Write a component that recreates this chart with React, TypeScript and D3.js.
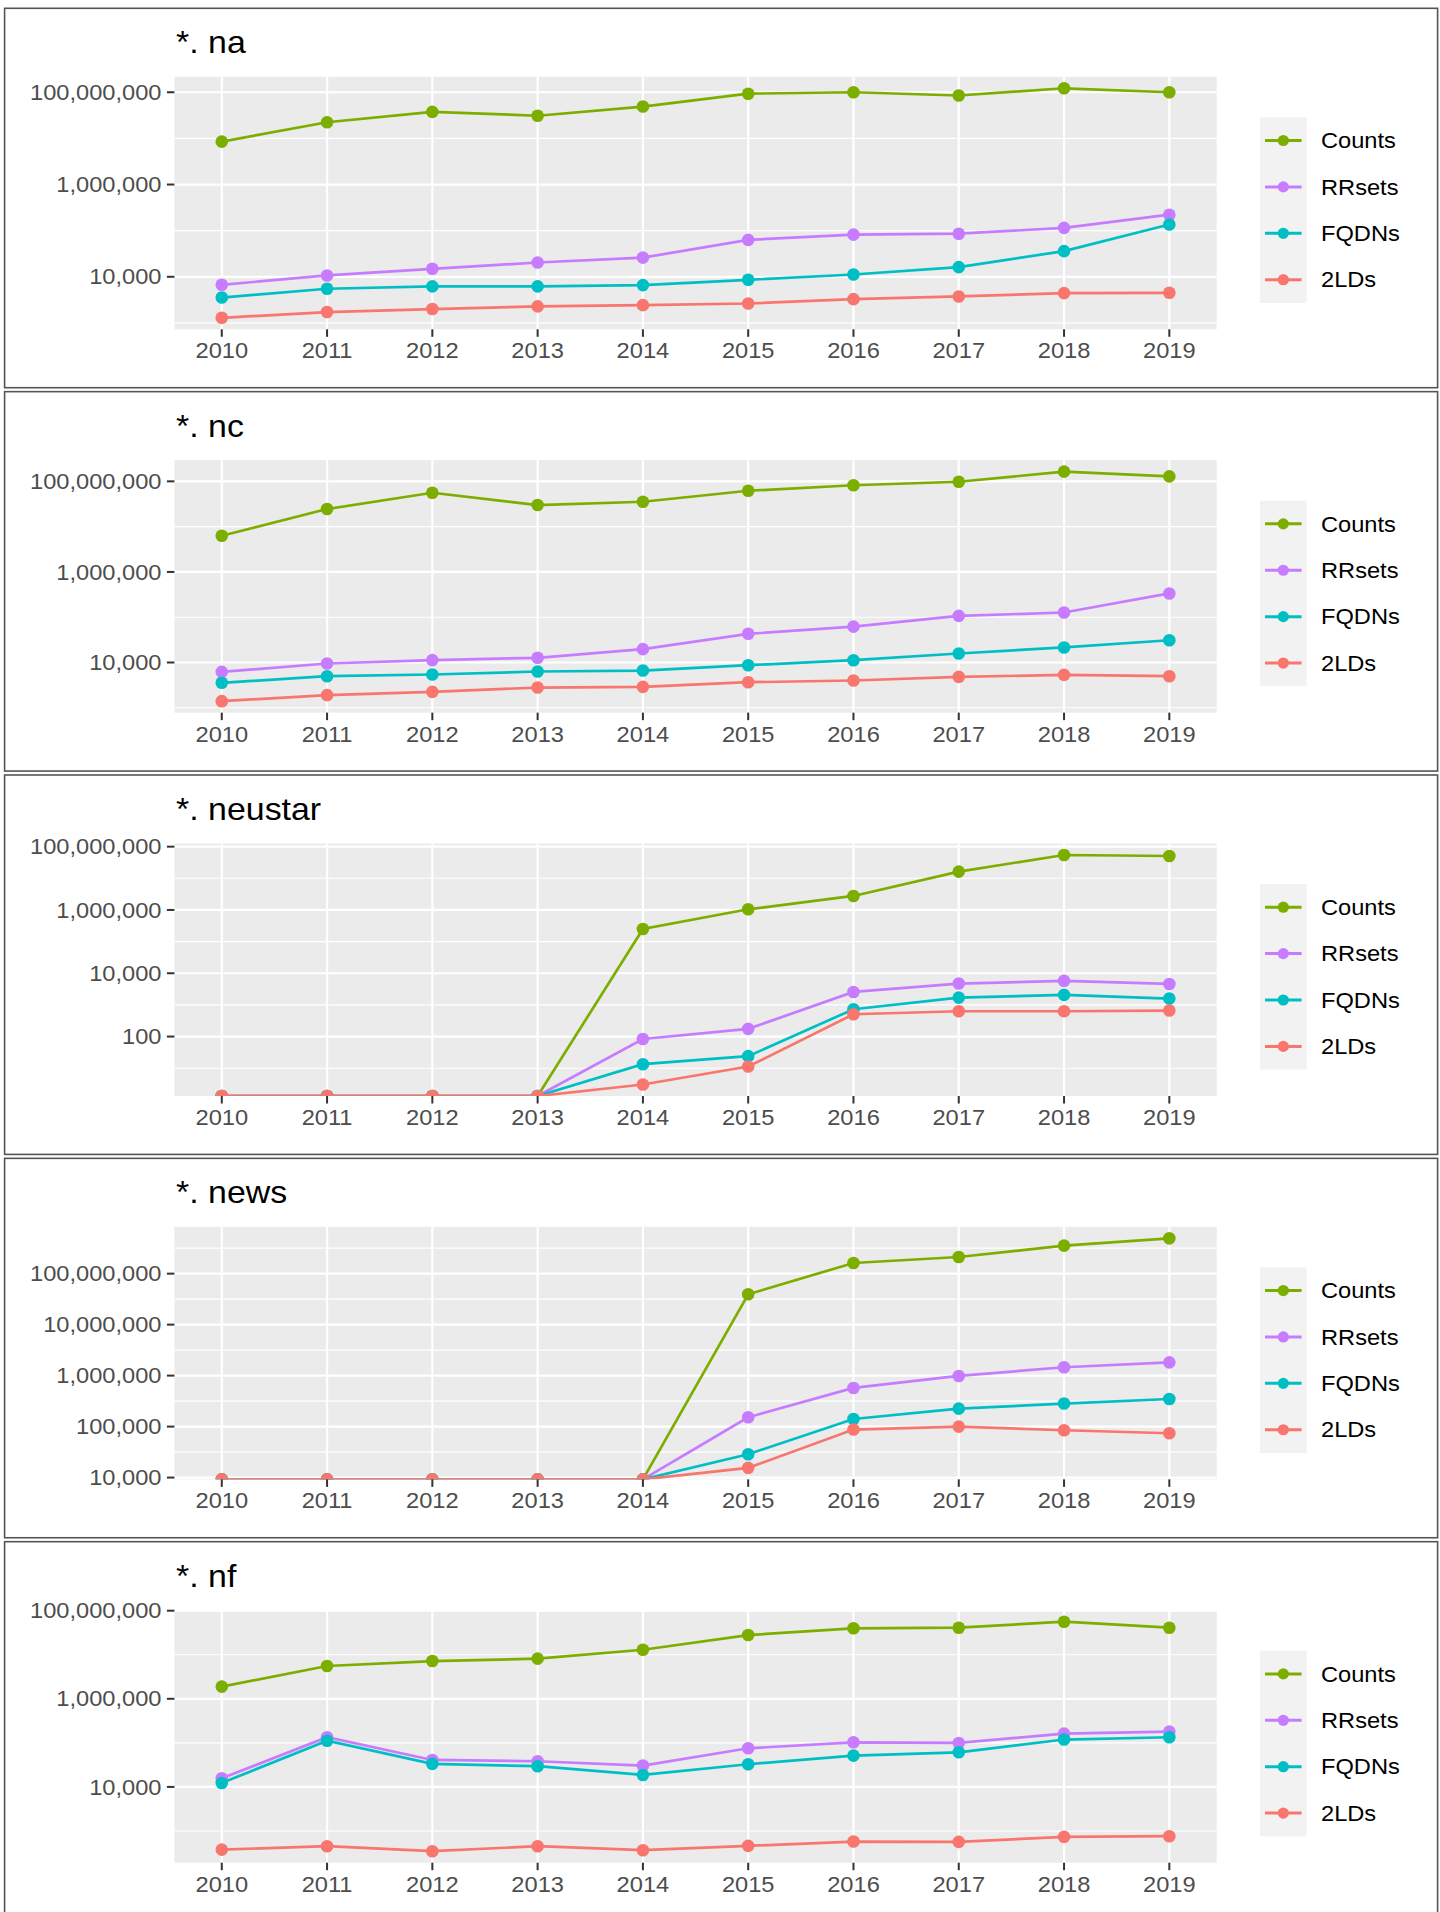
import React from "react";
import * as d3 from "d3";

const YEARS = [2010, 2011, 2012, 2013, 2014, 2015, 2016, 2017, 2018, 2019];
const SERIES = ["Counts", "RRsets", "FQDNs", "2LDs"];
const COLORS = ["#7CAE00", "#C77CFF", "#00BFC4", "#F8766D"];
const TITLES = ["*. na", "*. nc", "*. neustar", "*. news", "*. nf"];

// *. na
const naCounts = [8.5e6, 2.24e7, 3.75e7, 3.1e7, 4.9e7, 9.3e7, 1.0e8, 8.5e7, 1.22e8, 1.0e8];
const naRRsets = [6700, 10700, 14900, 20400, 26000, 63000, 82000, 86000, 115000, 222000];
const naFQDNs = [3550, 5500, 6200, 6200, 6600, 8600, 11200, 16200, 36000, 136000];
const na2LDs = [1290, 1720, 2000, 2280, 2430, 2640, 3280, 3750, 4430, 4500];

// *. nc
const ncCounts = [6.3e6, 2.45e7, 5.6e7, 3.0e7, 3.55e7, 6.2e7, 8.2e7, 9.8e7, 1.64e8, 1.29e8];
const ncRRsets = [6200, 9500, 11300, 12700, 19700, 43000, 62000, 107000, 127000, 335000];
const ncFQDNs = [3560, 4990, 5430, 6330, 6650, 8710, 11250, 15800, 21500, 31000];
const nc2LDs = [1400, 1900, 2250, 2800, 2900, 3670, 4000, 4820, 5330, 4990];

// *. neustar
const neustarCounts = [0, 0, 0, 0, 2.5e5, 1.05e6, 2.77e6, 1.63e7, 5.46e7, 5.07e7];
const neustarRRsets = [0, 0, 0, 0, 84, 175, 2570, 4720, 5730, 4600];
const neustarFQDNs = [0, 0, 0, 0, 13.4, 24, 730, 1700, 2070, 1585];
const neustar2LDs = [0, 0, 0, 0, 3.05, 11.3, 507, 631, 631, 662];

// *. news
const newsCounts = [0, 0, 0, 0, 0, 3.94e7, 1.62e8, 2.12e8, 3.54e8, 4.93e8];
const newsRRsets = [0, 0, 0, 0, 0, 1.52e5, 5.73e5, 9.85e5, 1.46e6, 1.82e6];
const newsFQDNs = [0, 0, 0, 0, 0, 28700, 1.41e5, 2.25e5, 2.83e5, 3.48e5];
const news2LDs = [0, 0, 0, 0, 0, 15500, 87600, 100000, 84800, 74000];

// *. nf
const nfCounts = [1.89e6, 5.56e6, 7.2e6, 8.15e6, 1.3e7, 2.8e7, 3.98e7, 4.11e7, 5.63e7, 4.11e7];
const nfRRsets = [15700, 134000, 40900, 38200, 30500, 75300, 103000, 99500, 162000, 180000];
const nfFQDNs = [12300, 112000, 33300, 29500, 18700, 32700, 51400, 61100, 119000, 134000];
const nf2LDs = [378, 451, 347, 451, 366, 459, 575, 565, 734, 760];

const naTicks = [1e4, 1e6, 1e8];
const ncTicks = [1e4, 1e6, 1e8];
const neustarTicks = [1e2, 1e4, 1e6, 1e8];
const newsTicks = [1e4, 1e5, 1e6, 1e7, 1e8];
const nfTicks = [1e4, 1e6, 1e8];

const PANELS = [
  { title: TITLES[0], data: [naCounts, naRRsets, naFQDNs, na2LDs], ticks: naTicks },
  { title: TITLES[1], data: [ncCounts, ncRRsets, ncFQDNs, nc2LDs], ticks: ncTicks },
  { title: TITLES[2], data: [neustarCounts, neustarRRsets, neustarFQDNs, neustar2LDs], ticks: neustarTicks },
  { title: TITLES[3], data: [newsCounts, newsRRsets, newsFQDNs, news2LDs], ticks: newsTicks },
  { title: TITLES[4], data: [nfCounts, nfRRsets, nfFQDNs, nf2LDs], ticks: nfTicks },
];

const FONT = "'Liberation Sans', Arial, Helvetica, sans-serif";
const PANEL_TOP0 = 8.3;
const PANEL_PITCH = 383.35;
const PANEL_H = 379.4;
const PLOT_L = 174.4;
const PLOT_R = 1216.7;
const TXT = 21.5;
const SX = 1.1;

function SText({ x, y, anchor = "start", size = TXT, sx = SX, fill = "#4D4D4D", children }) {
  return (
    <text
      transform={`translate(${x},${y}) scale(${sx},1)`}
      x={0}
      y={0}
      textAnchor={anchor}
      fontFamily={FONT}
      fontSize={size}
      fill={fill}
    >
      {children}
    </text>
  );
}

function Panel({ idx, title, data, ticks }) {
  const top = PANEL_TOP0 + idx * PANEL_PITCH;
  const pTop = top + 68.5;
  const pBot = top + 321;
  const x = d3.scaleLinear().domain([2010 - 0.45, 2019 + 0.45]).range([PLOT_L, PLOT_R]);
  const finite = data.flat().filter((v) => v > 0);
  const lmin = Math.log10(d3.min(finite));
  const lmax = Math.log10(d3.max(finite));
  const pad = (lmax - lmin) * 0.05;
  const lo = lmin - pad;
  const hi = lmax + pad;
  const y = d3.scaleLog().domain([Math.pow(10, lo), Math.pow(10, hi)]).range([pBot, pTop]);
  const yp = (v) => (v > 0 ? y(v) : pBot);
  const majors = ticks.filter((t) => Math.log10(t) >= lo && Math.log10(t) <= hi);
  const ml = ticks.map((t) => Math.log10(t));
  const step = ml.length > 1 ? ml[1] - ml[0] : 1;
  const ext = [ml[0] - step, ...ml, ml[ml.length - 1] + step];
  const minors = [];
  for (let i = 0; i < ext.length - 1; i++) {
    const m = (ext[i] + ext[i + 1]) / 2;
    if (m > lo && m < hi) minors.push(Math.pow(10, m));
  }
  const line = d3
    .line()
    .x((d) => x(d[0]))
    .y((d) => yp(d[1]));
  const clipId = `clip${idx}`;
  const fmt = d3.format(",");
  const legTop = top + 109;
  const keyH = 46.4;
  return (
    <g>
      <rect x={4.6} y={top} width={1433} height={PANEL_H} fill="#fff" stroke="#555" strokeWidth={1.6} />
      <defs>
        <clipPath id={clipId}>
          <rect x={PLOT_L} y={pTop} width={PLOT_R - PLOT_L} height={pBot - pTop} />
        </clipPath>
      </defs>
      <SText x={176} y={top + 45} size={32} sx={1.06} fill="#000">
        {title}
      </SText>
      <rect x={PLOT_L} y={pTop} width={PLOT_R - PLOT_L} height={pBot - pTop} fill="#EBEBEB" />
      {minors.map((m, i) => (
        <line key={"mn" + i} x1={PLOT_L} x2={PLOT_R} y1={y(m)} y2={y(m)} stroke="#fff" strokeWidth={1.1} />
      ))}
      {majors.map((t, i) => (
        <line key={"mj" + i} x1={PLOT_L} x2={PLOT_R} y1={y(t)} y2={y(t)} stroke="#fff" strokeWidth={2.2} />
      ))}
      {YEARS.map((yr) => (
        <line key={"vx" + yr} x1={x(yr)} x2={x(yr)} y1={pTop} y2={pBot} stroke="#fff" strokeWidth={2.2} />
      ))}
      <g clipPath={`url(#${clipId})`}>
        {data.map((vals, s) => (
          <path
            key={"l" + s}
            d={line(YEARS.map((yr, i) => [yr, vals[i]]))}
            fill="none"
            stroke={COLORS[s]}
            strokeWidth={2.7}
          />
        ))}
        {data.map((vals, s) =>
          vals.map((v, i) => <circle key={"p" + s + "_" + i} cx={x(YEARS[i])} cy={yp(v)} r={6.3} fill={COLORS[s]} />)
        )}
      </g>
      {majors.map((t, i) => (
        <g key={"yt" + i}>
          <line x1={PLOT_L - 7.5} x2={PLOT_L} y1={y(t)} y2={y(t)} stroke="#333" strokeWidth={2} />
          <SText x={161.5} y={y(t) + 7.7} anchor="end">
            {fmt(t)}
          </SText>
        </g>
      ))}
      {YEARS.map((yr) => (
        <g key={"xt" + yr}>
          <line x1={x(yr)} x2={x(yr)} y1={pBot} y2={pBot + 7.5} stroke="#333" strokeWidth={2} />
          <SText x={x(yr)} y={pBot + 29} anchor="middle">
            {yr}
          </SText>
        </g>
      ))}
      <rect x={1260} y={legTop} width={46.6} height={keyH * 4} fill="#F2F2F2" />
      {SERIES.map((name, s) => {
        const cy = legTop + keyH * (s + 0.5);
        return (
          <g key={"lg" + s}>
            <line x1={1265} x2={1301.6} y1={cy} y2={cy} stroke={COLORS[s]} strokeWidth={3} />
            <circle cx={1283.3} cy={cy} r={5.6} fill={COLORS[s]} />
            <SText x={1321} y={cy + 7.7} fill="#000">
              {name}
            </SText>
          </g>
        );
      })}
    </g>
  );
}

export default function App() {
  return (
    <svg
      width={1440}
      height={1912}
      viewBox="0 0 1440 1912"
      style={{ position: "absolute", left: 0, top: 0, background: "#fff" }}
    >
      <rect x={0} y={0} width={1440} height={1912} fill="#fff" />
      {PANELS.map((p, i) => (
        <Panel key={i} idx={i} title={p.title} data={p.data} ticks={p.ticks} />
      ))}
    </svg>
  );
}
